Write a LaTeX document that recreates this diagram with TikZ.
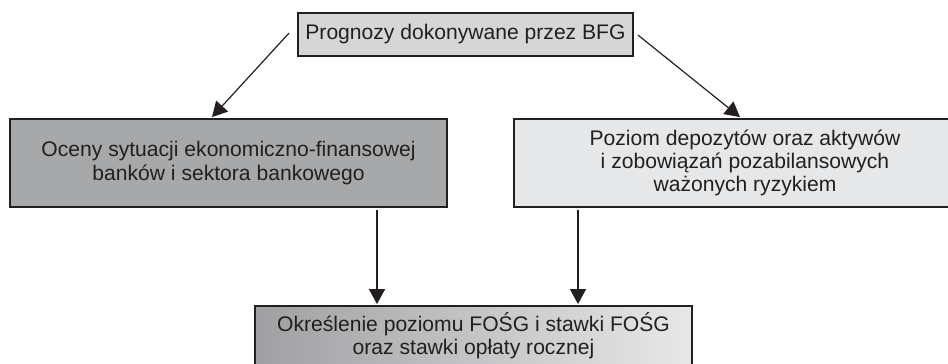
\documentclass[tikz,border=0pt]{standalone}
\usepackage{fontspec}
\setmainfont{Liberation Sans}
\usetikzlibrary{calc,arrows.meta}
\definecolor{edge}{HTML}{231F20}
\definecolor{topfill}{HTML}{D6D6D7}
\definecolor{leftfill}{HTML}{A7A8AA}
\definecolor{rightfill}{HTML}{E6E7E8}
\definecolor{gradL}{HTML}{9FA0A2}
\definecolor{gradR}{HTML}{E8E8E9}
\tikzset{
  box/.style={draw=edge, line width=1.8pt, rectangle, align=center, inner sep=0pt,
    font=\fontsize{21.1}{23.3}\selectfont, text=edge},
  arr/.style={draw=edge, line width=1.2pt, -{Triangle[length=15pt,width=16pt]}}
}
\begin{document}
\begin{tikzpicture}[x=1pt,y=-1pt]
\useasboundingbox (0,0) rectangle (948,364);
\clip (0,0) rectangle (948,364);
\node[box, fill=topfill, minimum width=335pt, minimum height=43pt] (top) at (465.5,34.5) {Prognozy dokonywane przez BFG};
\node[box, fill=leftfill, minimum width=437pt, minimum height=88pt] (left) at (228.5,163) {Oceny sytuacji ekonomiczno-finansowej\\banków i sektora bankowego};
\node[box, fill=rightfill, minimum width=462pt, minimum height=88pt] (right) at (745,163) {Poziom depozytów oraz aktywów\\i zobowiązań pozabilansowych\\ważonych ryzykiem};
\node[box, left color=gradL, right color=gradR, minimum width=437pt, minimum height=60pt] (bottom) at (473.5,336) {Określenie poziomu FOŚG i stawki FOŚG\\oraz stawki opłaty rocznej};
\draw[arr] ($(top.west)+(-8,-1.5)$) -- ($(left.north)+(-16.5,-1)$);
\draw[arr] ($(top.east)+(4,0.5)$) -- ($(right.north)+(-5,-1)$);
\draw[arr] ($(left.south)+(148.5,2)$) -- ($(bottom.north)+(-96.5,-1)$);
\draw[arr] ($(right.south)+(-167,2)$) -- ($(bottom.north)+(104.5,-1)$);
\end{tikzpicture}
\end{document}
